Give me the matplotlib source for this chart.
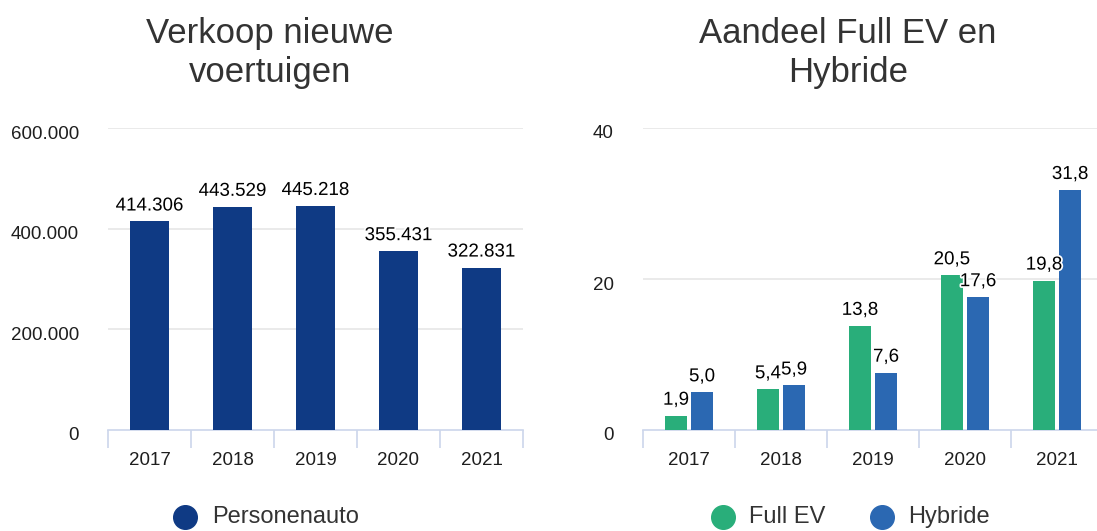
import matplotlib
matplotlib.use("Agg")
import matplotlib.pyplot as plt
import matplotlib.patheffects as pe
import matplotlib.transforms as mtransforms
from matplotlib.lines import Line2D
import numpy as np

plt.rcParams['font.family'] = ['Liberation Sans', 'DejaVu Sans']

years = ["2017", "2018", "2019", "2020", "2021"]
personenauto = [414306, 443529, 445218, 355431, 322831]
full_ev = [1.9, 5.4, 13.8, 20.5, 19.8]
hybride = [5.0, 5.9, 7.6, 17.6, 31.8]

left_ticks = [0, 200000, 400000, 600000]
right_ticks = [0, 20, 40]

C_NAVY = "#0f3a84"
C_GREEN = "#29ae7a"
C_BLUE = "#2b68b2"
AXIS_C = "#ccd6eb"
GRID_C = "#e6e6e6"
TEXT_C = "#333333"
TICK_C = "#1e1e1e"

W, H = 1097, 531
fig = plt.figure(figsize=(W / 100, H / 100), dpi=100)

def fmt_thousands(v):
    return f"{int(round(v)):,}".replace(",", ".")

def fmt_dec(v):
    return f"{v:.1f}".replace(".", ",")

def style_axes(ax, ymax, ticks, ticklabels):
    n = len(years)
    ax.set_xlim(0, n)
    ax.set_ylim(0, ymax)
    ax.set_yticks(ticks)
    ax.set_yticklabels(ticklabels)
    ax.set_xticks(np.arange(n) + 0.5)
    ax.set_xticklabels(years)
    ax.set_xticks(np.arange(n + 1), minor=True)
    for s in ["top", "right", "left"]:
        ax.spines[s].set_visible(False)
    ax.spines["bottom"].set_color(AXIS_C)
    ax.spines["bottom"].set_linewidth(1.2)
    ax.tick_params(axis="x", which="major", length=0, pad=16, labelsize=13.5, labelcolor=TICK_C)
    ax.tick_params(axis="x", which="minor", length=13, width=1.2, color=AXIS_C)
    ax.tick_params(axis="y", length=0, pad=21, labelsize=13.5, labelcolor=TICK_C)
    shift = mtransforms.ScaledTranslation(0, -4 / 100, fig.dpi_scale_trans)
    for lab in ax.get_yticklabels():
        lab.set_transform(lab.get_transform() + shift)
    for t in ticks[1:]:
        ax.axhline(t, color=GRID_C, lw=1.2, zorder=0)
    ax.set_axisbelow(True)

def label(ax, x, y, txt):
    ax.annotate(txt, (x, y), xytext=(0, 5), textcoords="offset points",
                ha="center", va="bottom", fontsize=13.5, color="black",
                path_effects=[pe.withStroke(linewidth=2.5, foreground="white")],
                zorder=5)

# Left chart
ax1 = fig.add_axes([108 / W, (H - 430) / H, 415 / W, 302 / H])
style_axes(ax1, 600000, left_ticks, [fmt_thousands(t) for t in left_ticks])
x = np.arange(len(years)) + 0.5
ax1.bar(x, personenauto, width=0.46, color=C_NAVY, zorder=3)
for xi, v in zip(x, personenauto):
    label(ax1, xi, v, fmt_thousands(v))

# Right chart
ax2 = fig.add_axes([643 / W, (H - 430) / H, 460 / W, 302 / H])
style_axes(ax2, 40, right_ticks, [str(t) for t in right_ticks])
bw = 0.24
off = 0.142
ax2.bar(x - off, full_ev, width=bw, color=C_GREEN, zorder=3)
ax2.bar(x + off, hybride, width=bw, color=C_BLUE, zorder=3)
for xi, v in zip(x, full_ev):
    label(ax2, xi - off, v, fmt_dec(v))
for xi, v in zip(x, hybride):
    label(ax2, xi + off, v, fmt_dec(v))

# Titles
fig.text(270 / W, 1 - 53 / H, "Verkoop nieuwe\nvoertuigen", ha="center", va="center",
         fontsize=25, color=TEXT_C, linespacing=1.25)
fig.text(848 / W, 1 - 53 / H, "Aandeel Full EV en\nHybride", ha="center", va="center",
         fontsize=25, color=TEXT_C, linespacing=1.25)

# Legends
def legend_item(xc, xt, y, color, txt):
    fig.add_artist(Line2D([xc / W], [1 - y / H], marker="o", markersize=17,
                          color=color, linestyle="none", transform=fig.transFigure))
    fig.text(xt / W, 1 - y / H, txt, ha="left", va="center", fontsize=17, color=TEXT_C)

legend_item(185, 212, 517, C_NAVY, "Personenauto")
legend_item(723, 749, 517, C_GREEN, "Full EV")
legend_item(882, 908, 517, C_BLUE, "Hybride")

fig.savefig("out.png", dpi=100)
